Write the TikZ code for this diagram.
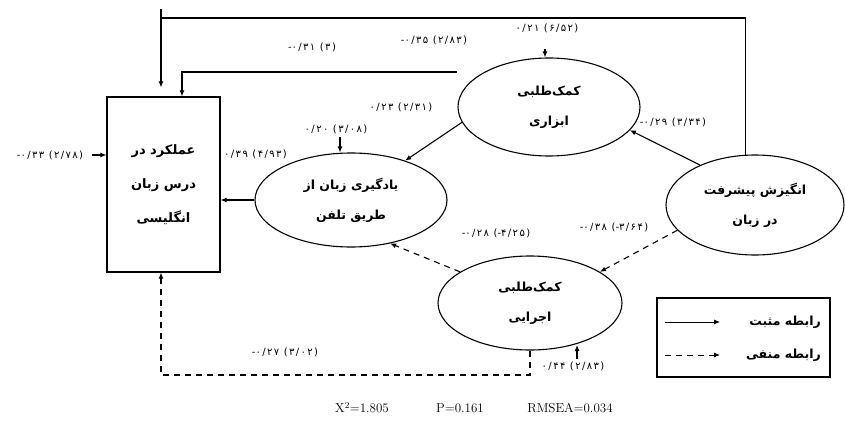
\documentclass[tikz,border=0pt]{standalone}
\usepackage{fontspec}
\usetikzlibrary{shapes.geometric,arrows.meta}
\TeXXeTstate=1
\newfontfamily\fa[Script=Arabic]{DejaVu Sans}
\newfontfamily\falab[LetterSpace=14]{DejaVu Sans}
\newcommand{\rl}[1]{\beginR #1\endR}
\newcommand{\mn}{\hbox{-}}
\newcommand{\lr}[1]{\beginL #1\endL{}}
\tikzset{
  arr/.style={-{Latex[length=6pt,width=5pt]}, line width=1.1pt},
  dsh/.style={arr, dash pattern=on 6pt off 5pt},
  ell/.style={ellipse, draw, line width=1.1pt, inner sep=0pt, align=center,
     font=\fa\bfseries\fontsize{12.5}{30}\selectfont},
  lab/.style={font=\falab\fontsize{10}{12}\selectfont, inner sep=0pt},
  fa/.style={font=\fa\bfseries\fontsize{12.5}{14}\selectfont, inner sep=0pt},
  stat/.style={font=\fontsize{13}{15}\selectfont, inner sep=0pt}
}
\begin{document}
\begin{tikzpicture}[x=1pt,y=-1pt]
\useasboundingbox (0,0) rectangle (845,425);
% nodes
\node[draw, line width=1.1pt, minimum width=113pt, minimum height=175pt, inner sep=0pt, align=center,
  font=\fa\bfseries\fontsize{13}{34}\selectfont] (perf) at (163.5,184.5)
  {\rl{عملکرد در}\\\rl{درس زبان}\\\rl{انگلیسی}};
\node[ell, minimum width=192pt, minimum height=94pt] (phone) at (351,200)
  {\rl{یادگیری زبان از}\\\rl{طریق تلفن}};
\node[ell, minimum width=182pt, minimum height=98pt] (instr) at (549,107)
  {\rl{کمک‌طلبی}\\\rl{ابزاری}};
\node[ell, minimum width=178pt, minimum height=100pt] (motiv) at (755,205)
  {\rl{انگیزش پیشرفت}\\\rl{در زبان}};
\node[ell, minimum width=184pt, minimum height=94pt] (exec) at (530,303)
  {\rl{کمک‌طلبی}\\\rl{اجرایی}};

% coordinates
\coordinate (t0) at (161,9);
\coordinate (t1) at (161,18);
\coordinate (i0) at (457,72);
\coordinate (i1) at (182,72);
\coordinate (d1) at (161,375);

% long top path: motivation -> performance
\draw[line width=1.1pt] (motiv.101) |- (t1);
\draw[arr, shorten >=9pt] (t0) -- (perf.north -| t0);
% instrumental -> performance
\draw[arr] (i0) -- (i1) -- (perf.north -| i1);
% instrumental -> phone
\draw[arr] (instr.190) -- (phone.36);
% phone -> performance
\draw[arr] (phone.west) -- (perf.east |- phone.west);
% motivation -> instrumental
\draw[arr] (motiv.144) -- (instr.344);
% motivation -> executive (dashed)
\draw[dsh] (motiv.198) -- (exec.24);
% executive -> phone (dashed)
\draw[dsh] (exec.156) -- (phone.312);
% executive -> performance (dashed)
\draw[dsh] (exec.south) |- (d1) -- (perf.south -| d1);

% error / small arrows
\coordinate (e1) at (545,49);
\draw[arr] (e1) -- (e1 |- instr.north);
\coordinate (e2) at (340,137);
\draw[arr] (e2) -- (e2 |- phone.north);
\coordinate (e3) at (92,155);
\draw[arr] (e3) -- (perf.west |- e3);
\coordinate (e4) at (577,359);
\draw[arr] (e4) -- (577,345);

% labels
\node[lab] (l1) at (312,47) {\lr{\mn۰/۳۱ (۳)}};
\node[lab] (l2) at (434,40) {\lr{\mn۰/۳۵ (۲/۸۳)}};
\node[lab] (l3) at (547,28) {\lr{۰/۲۱ (۶/۵۲)}};
\node[lab] (l4) at (401,107) {\lr{۰/۲۳ (۲/۳۱)}};
\node[lab] (l5) at (336,129) {\lr{۰/۲۰ (۳/۰۸)}};
\node[lab, anchor=west] (l6) at (224,154) {\lr{۰/۳۹ (۴/۹۳)}};
\node[lab] (l7) at (50,155) {\lr{\mn۰/۳۳ (۲/۷۸)}};
\node[lab] (l8) at (673,122) {\lr{\mn۰/۲۹ (۳/۳۴)}};
\node[lab] (l9) at (496,233) {\lr{\mn۰/۲۸ (\mn۴/۲۵)}};
\node[lab] (l10) at (614,227) {\lr{\mn۰/۳۸ (\mn۳/۶۴)}};
\node[lab] (l11) at (285,352) {\lr{\mn۰/۲۷ (۳/۰۲)}};
\node[lab] (l12) at (573,366) {\lr{۰/۴۴ (۲/۸۳)}};

% legend
\node[draw, line width=1.1pt, minimum width=173pt, minimum height=79pt, inner sep=0pt] (leg) at (743.5,337.5) {};
\coordinate (g1) at (665,322);
\coordinate (g2) at (720,322);
\coordinate (g3) at (665,355);
\coordinate (g4) at (720,355);
\draw[arr, line width=0.9pt] (g1) -- (g2);
\draw[dsh, line width=0.9pt] (g3) -- (g4);
\node[fa, anchor=east] (t1l) at (821,322) {\rl{رابطه مثبت}};
\node[fa, anchor=east] (t2l) at (821,355) {\rl{رابطه منفی}};

% fit statistics
\node[stat] (s1) at (362,408) {X$^2$=1.805};
\node[stat] (s2) at (460,408) {P=0.161};
\node[stat] (s3) at (570,408) {RMSEA=0.034};
\end{tikzpicture}
\end{document}
